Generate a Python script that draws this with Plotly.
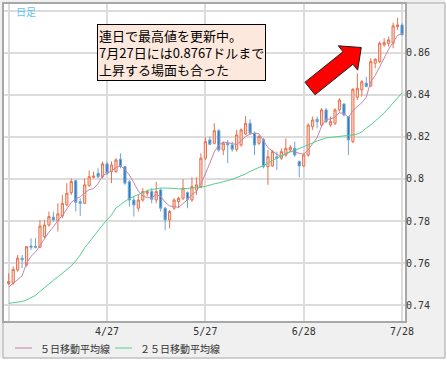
import plotly.graph_objects as go

dates = [
    "2011-03-28", "2011-03-29", "2011-03-30", "2011-03-31", "2011-04-01",
    "2011-04-04", "2011-04-05", "2011-04-06", "2011-04-07", "2011-04-08",
    "2011-04-11", "2011-04-12", "2011-04-13", "2011-04-14", "2011-04-15",
    "2011-04-18", "2011-04-19", "2011-04-20", "2011-04-21", "2011-04-22",
    "2011-04-25", "2011-04-26", "2011-04-27", "2011-04-28", "2011-04-29",
    "2011-05-02", "2011-05-03", "2011-05-04", "2011-05-05", "2011-05-06",
    "2011-05-09", "2011-05-10", "2011-05-11", "2011-05-12", "2011-05-13",
    "2011-05-16", "2011-05-17", "2011-05-18", "2011-05-19", "2011-05-20",
    "2011-05-23", "2011-05-24", "2011-05-25", "2011-05-26", "2011-05-27",
    "2011-05-30", "2011-05-31",
    "2011-06-01", "2011-06-02", "2011-06-03",
    "2011-06-06", "2011-06-07", "2011-06-08", "2011-06-09", "2011-06-10",
    "2011-06-13", "2011-06-14", "2011-06-15", "2011-06-16", "2011-06-17",
    "2011-06-20", "2011-06-21", "2011-06-22", "2011-06-23", "2011-06-24",
    "2011-06-27", "2011-06-28", "2011-06-29", "2011-06-30",
    "2011-07-01",
    "2011-07-04", "2011-07-05", "2011-07-06", "2011-07-07", "2011-07-08",
    "2011-07-11", "2011-07-12", "2011-07-13", "2011-07-14", "2011-07-15",
    "2011-07-18", "2011-07-19", "2011-07-20", "2011-07-21", "2011-07-22",
    "2011-07-25", "2011-07-26", "2011-07-27", "2011-07-28",
]

open_ = [
    0.7502, 0.7504, 0.7567, 0.7623, 0.7591, 0.7681, 0.7680, 0.7675, 0.7726, 0.7781,
    0.7818, 0.7802, 0.7824, 0.7877, 0.7935, 0.7992, 0.7892, 0.7884, 0.7968, 0.8008,
    0.8027, 0.8011, 0.8072, 0.8035, 0.8035, 0.8094, 0.8059, 0.7987, 0.7900, 0.7861,
    0.7900, 0.7932, 0.7940, 0.7900, 0.7948, 0.7861, 0.7805, 0.7861, 0.7892, 0.7908,
    0.7935, 0.7900, 0.7948, 0.7964, 0.8099, 0.8186, 0.8170, 0.8230, 0.8138, 0.8170,
    0.8162, 0.8141, 0.8162, 0.8214, 0.8265, 0.8218, 0.8170, 0.8189, 0.8059, 0.8062,
    0.8106, 0.8099, 0.8114, 0.8138, 0.8146, 0.8083, 0.8062, 0.8114, 0.8249, 0.8284,
    0.8257, 0.8329, 0.8257, 0.8265, 0.8329, 0.8357, 0.8297, 0.8178, 0.8389, 0.8424,
    0.8456, 0.8443, 0.8551, 0.8559, 0.8638, 0.8646, 0.8646, 0.8725, 0.8733,
]
high = [
    0.7551, 0.7583, 0.7638, 0.7638, 0.7681, 0.7718, 0.7718, 0.7805, 0.7805, 0.7845,
    0.7845, 0.7884, 0.7924, 0.7980, 0.8003, 0.7996, 0.7908, 0.8003, 0.8040, 0.8035,
    0.8051, 0.8083, 0.8083, 0.8083, 0.8099, 0.8122, 0.8062, 0.7995, 0.7916, 0.7924,
    0.7956, 0.7948, 0.7956, 0.7987, 0.7956, 0.7868, 0.7853, 0.7908, 0.7916, 0.7999,
    0.7940, 0.8008, 0.8008, 0.8122, 0.8199, 0.8202, 0.8265, 0.8237, 0.8178, 0.8186,
    0.8178, 0.8234, 0.8241, 0.8300, 0.8284, 0.8226, 0.8210, 0.8194, 0.8138, 0.8138,
    0.8130, 0.8146, 0.8194, 0.8162, 0.8178, 0.8088, 0.8122, 0.8265, 0.8297, 0.8297,
    0.8337, 0.8337, 0.8297, 0.8337, 0.8384, 0.8360, 0.8300, 0.8432, 0.8503, 0.8471,
    0.8487, 0.8575, 0.8575, 0.8654, 0.8670, 0.8678, 0.8744, 0.8767, 0.8741,
]
low = [
    0.7496, 0.7496, 0.7559, 0.7575, 0.7583, 0.7662, 0.7670, 0.7670, 0.7718, 0.7773,
    0.7797, 0.7750, 0.7813, 0.7869, 0.7924, 0.7845, 0.7824, 0.7881, 0.7964, 0.8003,
    0.8003, 0.8003, 0.8019, 0.7980, 0.8030, 0.8051, 0.7972, 0.7868, 0.7821, 0.7845,
    0.7892, 0.7916, 0.7884, 0.7884, 0.7845, 0.7757, 0.7765, 0.7853, 0.7861, 0.7900,
    0.7861, 0.7892, 0.7924, 0.7956, 0.8091, 0.8162, 0.8165, 0.8130, 0.8114, 0.8075,
    0.8130, 0.8130, 0.8154, 0.8210, 0.8210, 0.8114, 0.8162, 0.8051, 0.7972, 0.8059,
    0.8043, 0.8091, 0.8106, 0.8130, 0.8106, 0.8008, 0.8056, 0.8106, 0.8233, 0.8241,
    0.8249, 0.8265, 0.8249, 0.8257, 0.8321, 0.8297, 0.8114, 0.8170, 0.8376, 0.8392,
    0.8437, 0.8437, 0.8527, 0.8551, 0.8630, 0.8630, 0.8622, 0.8710, 0.8686,
]
close = [
    0.7512, 0.7570, 0.7623, 0.7615, 0.7678, 0.7675, 0.7675, 0.7776, 0.7781, 0.7821,
    0.7805, 0.7834, 0.7884, 0.7932, 0.7988, 0.7889, 0.7884, 0.7972, 0.8011, 0.8014,
    0.8011, 0.8072, 0.8027, 0.8067, 0.8091, 0.8059, 0.7980, 0.7900, 0.7876, 0.7900,
    0.7940, 0.7940, 0.7903, 0.7940, 0.7861, 0.7805, 0.7845, 0.7900, 0.7908, 0.7956,
    0.7903, 0.7964, 0.7972, 0.8099, 0.8178, 0.8165, 0.8230, 0.8138, 0.8170, 0.8162,
    0.8141, 0.8210, 0.8234, 0.8265, 0.8218, 0.8162, 0.8202, 0.8059, 0.8106, 0.8130,
    0.8099, 0.8130, 0.8146, 0.8151, 0.8114, 0.8062, 0.8114, 0.8257, 0.8281, 0.8273,
    0.8329, 0.8273, 0.8273, 0.8329, 0.8376, 0.8305, 0.8186, 0.8427, 0.8432, 0.8463,
    0.8440, 0.8559, 0.8570, 0.8646, 0.8649, 0.8662, 0.8729, 0.8733, 0.8686,
]

ma5 = [
    0.7486, 0.7505, 0.7520, 0.7539, 0.7600, 0.7632, 0.7653, 0.7684, 0.7717, 0.7746,
    0.7772, 0.7803, 0.7825, 0.7855, 0.7889, 0.7905, 0.7915, 0.7933, 0.7949, 0.7954,
    0.7978, 0.8016, 0.8027, 0.8038, 0.8054, 0.8063, 0.8045, 0.8019, 0.7981, 0.7943,
    0.7919, 0.7911, 0.7912, 0.7925, 0.7917, 0.7890, 0.7871, 0.7870, 0.7864, 0.7883,
    0.7902, 0.7926, 0.7941, 0.7979, 0.8023, 0.8076, 0.8129, 0.8162, 0.8176, 0.8173,
    0.8168, 0.8164, 0.8183, 0.8202, 0.8214, 0.8218, 0.8216, 0.8181, 0.8149, 0.8132,
    0.8119, 0.8105, 0.8122, 0.8131, 0.8128, 0.8121, 0.8117, 0.8140, 0.8166, 0.8197,
    0.8251, 0.8283, 0.8286, 0.8295, 0.8316, 0.8311, 0.8294, 0.8325, 0.8345, 0.8363,
    0.8390, 0.8464, 0.8493, 0.8536, 0.8573, 0.8617, 0.8651, 0.8684, 0.8692,
]
ma25 = [
    0.7408, 0.7410, 0.7413, 0.7417, 0.7424, 0.7434, 0.7446, 0.7465, 0.7481, 0.7500,
    0.7517, 0.7534, 0.7550, 0.7567, 0.7586, 0.7610, 0.7638, 0.7672, 0.7700, 0.7724,
    0.7753, 0.7781, 0.7805, 0.7829, 0.7862, 0.7879, 0.7893, 0.7907, 0.7917, 0.7926,
    0.7938, 0.7945, 0.7950, 0.7955, 0.7957, 0.7957, 0.7957, 0.7955, 0.7953, 0.7953,
    0.7955, 0.7957, 0.7957, 0.7960, 0.7965, 0.7972, 0.7977, 0.7981, 0.7988, 0.7993,
    0.7998, 0.8007, 0.8014, 0.8024, 0.8036, 0.8045, 0.8053, 0.8062, 0.8074, 0.8088,
    0.8100, 0.8110, 0.8119, 0.8129, 0.8138, 0.8145, 0.8155, 0.8164, 0.8172, 0.8181,
    0.8188, 0.8195, 0.8198, 0.8200, 0.8203, 0.8205, 0.8205, 0.8210, 0.8214, 0.8224,
    0.8243, 0.8257, 0.8276, 0.8295, 0.8314, 0.8338, 0.8362, 0.8386, 0.8410,
]

ma_names = ["５日移動平均線", "２５日移動平均線"]
ma_colors = ["#c784aa", "#55cf8e"]

x_tickvals = ["2011-03-28", "2011-04-27", "2011-05-27", "2011-06-28", "2011-07-28"]
x_ticktext = ["", "4/27", "5/27", "6/28", "7/28"]
y_tickvals = [0.74, 0.76, 0.78, 0.80, 0.82, 0.84, 0.86, 0.88]
y_ticktext = ["0.74", "0.76", "0.78", "0.8", "0.82", "0.84", "0.86", ""]

W, H = 447, 366
ML, MR, MT, MB = 4, 42, 4, 45
PW, PH = W - ML - MR, H - MT - MB


def px(x):
    return (x - ML) / PW


def py(y):
    return (H - MB - y) / PH


fig = go.Figure()
fig.add_trace(go.Candlestick(
    x=dates, open=open_, high=high, low=low, close=close,
    increasing=dict(line=dict(color="#e8714d", width=1), fillcolor="#fcdcd0"),
    decreasing=dict(line=dict(color="#6aa6d8", width=1), fillcolor="#2f78bd"),
    showlegend=False, hoverinfo="skip",
))
for name, vals, col in zip(ma_names, [ma5, ma25], ma_colors):
    fig.add_trace(go.Scatter(
        x=dates, y=vals, mode="lines", name=name,
        line=dict(color=col, width=1), showlegend=False,
    ))

# red arrow (pixel coordinates converted to paper)
arrow_pts = [(305, 82.2), (343, 51.7), (338.3, 45.8), (361.3, 47.5),
             (357.7, 70.2), (353, 64.3), (315, 94.8)]
path = "M " + " L ".join(f"{px(a):.4f},{py(b):.4f}" for a, b in arrow_pts) + " Z"

shapes = [
    dict(type="rect", xref="paper", yref="paper", x0=px(-5), x1=px(W + 5),
         y0=py(358.5), y1=py(H + 5), fillcolor="white", line=dict(width=0), layer="below"),
    dict(type="rect", xref="paper", yref="paper", x0=px(445.5), x1=px(W + 5),
         y0=py(-5), y1=py(H + 5), fillcolor="white", line=dict(width=0), layer="below"),
    dict(type="rect", xref="paper", yref="paper", x0=px(3), x1=px(445),
         y0=py(358), y1=py(3), line=dict(color="#a8a8a8", width=1)),
    dict(type="path", xref="paper", yref="paper", path=path,
         fillcolor="#ff0000", line=dict(color="#202020", width=1)),
]

annotations = [
    dict(xref="paper", yref="paper", x=px(14), y=py(12), xanchor="left", yanchor="middle",
         text="日足", showarrow=False,
         font=dict(family="Noto Sans CJK JP", size=10, color="#62c3ee")),
    dict(xref="paper", yref="paper", x=px(97), y=py(24), xanchor="left", yanchor="top",
         text="連日で最高値を更新中。<br>7月27日には0.8767ドルまで<br>上昇する場面も合った",
         align="left", showarrow=False, bgcolor="#fde8dd", bordercolor="#000000",
         borderwidth=1, borderpad=1,
         font=dict(family="Noto Sans CJK JP", size=13, color="#000000")),
]

# legend drawn below the plot: short line sample + label
legend_x = [15, 115]
for lx, name, col in zip(legend_x, ma_names, ma_colors):
    shapes.append(dict(type="line", xref="paper", yref="paper",
                       x0=px(lx), x1=px(lx + 17), y0=py(348), y1=py(348),
                       line=dict(color=col, width=1)))
    annotations.append(dict(xref="paper", yref="paper", x=px(lx + 23), y=py(348),
                            xanchor="left", yanchor="middle", text=name, showarrow=False,
                            font=dict(family="Noto Sans CJK JP", size=10, color="#333333")))

fig.update_layout(
    width=W, height=H,
    margin=dict(l=ML, r=MR, t=MT, b=MB, autoexpand=False),
    paper_bgcolor="#f0f0f0", plot_bgcolor="white",
    font=dict(family="DejaVu Sans Mono", size=10, color="#333333"),
    shapes=shapes, annotations=annotations,
    showlegend=False,
    xaxis=dict(type="category", categoryorder="array", categoryarray=dates,
               range=[-1.05, 88.66], tickmode="array", tickvals=x_tickvals,
               ticktext=x_ticktext, showgrid=True, gridcolor="#dcdcdc", gridwidth=1.5,
               showline=True, mirror=True, linecolor="#a8a8a8", linewidth=2,
               ticks="", rangeslider=dict(visible=False),
               tickfont=dict(family="DejaVu Sans Mono", size=10, color="#333333")),
    yaxis=dict(side="right", range=[0.7324, 0.8833], tickmode="array",
               tickvals=y_tickvals, ticktext=y_ticktext, showgrid=True,
               gridcolor="#dcdcdc", gridwidth=1.5, zeroline=False,
               showline=True, mirror=True, linecolor="#a8a8a8", linewidth=2,
               ticks="", ticklabelstandoff=-3,
               tickfont=dict(family="DejaVu Sans Mono", size=10, color="#333333")),
    hovermode=False,
)

fig.write_html("out.html", config={"displayModeBar": False},
               post_script="document.body.style.margin='0';")
